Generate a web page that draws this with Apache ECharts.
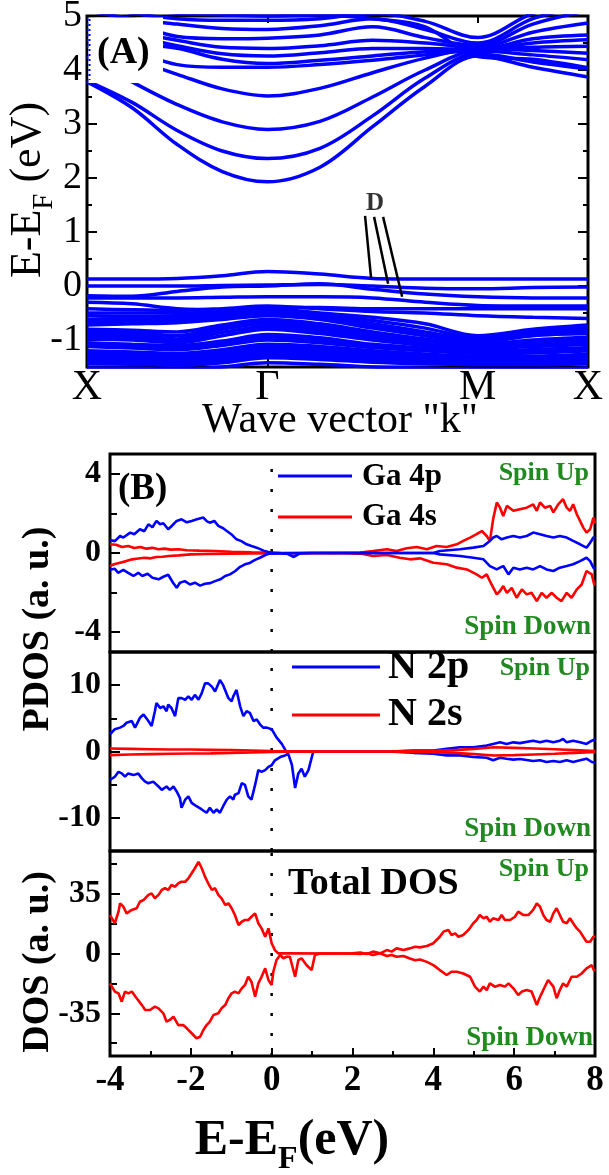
<!DOCTYPE html>
<html>
<head>
<meta charset="utf-8">
<script src="https://cdn.jsdelivr.net/npm/echarts@6/dist/echarts.min.js"></script>
<style>
  html, body { margin: 0; padding: 0; background: #fff; }
  #chart { width: 609px; height: 1175px; }
</style>
</head>
<body>
<div id="chart"></div>
<script>
// ---------- (A) band structure ----------
const kPath = [0, 0.09, 0.18, 0.27, 0.36, 0.465, 0.57, 0.675, 0.78, 0.89, 1.0];
const kTickPos = [0, 0.36, 0.78, 1];
const kTickLabels = ['X', 'Γ', 'M', 'X'];
const energyTicks = [-1, 0, 1, 2, 3, 4, 5];
const energyMinorTicks = [-0.5, 0.5, 1.5, 2.5, 3.5, 4.5];

// conduction bands, energy (eV) at each kPath point
const bandsConduction = [
  [3.78, 3.30, 2.62, 2.12, 1.93, 2.20, 2.95, 3.70, 4.26, 4.05, 3.87],
  [3.80, 3.40, 2.88, 2.50, 2.36, 2.55, 3.15, 3.85, 4.30, 4.15, 4.02],
  [4.25, 3.78, 3.36, 3.04, 2.90, 3.05, 3.50, 4.00, 4.35, 4.28, 4.19],
  [4.45, 4.20, 3.92, 3.65, 3.52, 3.66, 3.95, 4.22, 4.40, 4.36, 4.31],
  [4.55, 4.35, 4.10, 4.05, 4.05, 4.10, 4.18, 4.28, 4.37, 4.42, 4.44],
  [4.65, 4.50, 4.40, 4.20, 4.12, 4.18, 4.26, 4.34, 4.36, 4.50, 4.56],
  [4.75, 4.62, 4.45, 4.30, 4.26, 4.32, 4.40, 4.40, 4.38, 4.58, 4.65],
  [4.85, 4.70, 4.55, 4.42, 4.40, 4.45, 4.55, 4.50, 4.42, 4.70, 4.87],
  [4.95, 4.85, 4.62, 4.58, 4.59, 4.65, 4.80, 4.60, 4.45, 4.85, 5.10],
  [5.10, 4.95, 4.85, 4.77, 4.75, 4.82, 4.95, 4.75, 4.50, 4.95, 5.20],
  [5.20, 5.05, 4.95, 4.92, 4.92, 4.95, 5.05, 4.90, 4.60, 5.05, 5.30],
  [5.30, 5.15, 5.05, 5.02, 5.00, 5.02, 4.95, 4.80, 4.25, 4.20, 4.04]
];

// valence bands, energy (eV) at each kPath point
const bandsValence = [
  [0.13, 0.13, 0.14, 0.19, 0.27, 0.22, 0.14, 0.13, 0.13, 0.13, 0.13],
  [0.00, 0.00, 0.00, 0.01, 0.02, 0.03, 0.00, -0.04, -0.05, -0.03, -0.02],
  [-0.18, -0.19, -0.10, -0.02, 0.00, 0.04, -0.06, -0.15, -0.20, -0.22, -0.22],
  [-0.22, -0.22, -0.22, -0.21, -0.20, -0.20, -0.22, -0.30, -0.36, -0.37, -0.37],
  [-0.30, -0.33, -0.42, -0.44, -0.40, -0.40, -0.42, -0.42, -0.42, -0.42, -0.42],
  [-0.42, -0.44, -0.45, -0.42, -0.37, -0.42, -0.47, -0.50, -0.55, -0.58, -0.60],
  [-0.50, -0.50, -0.50, -0.48, -0.42, -0.50, -0.58, -0.70, -0.92, -0.80, -0.72],
  [-0.55, -0.56, -0.55, -0.52, -0.45, -0.53, -0.64, -0.78, -0.96, -0.82, -0.76],
  [-0.62, -0.60, -0.58, -0.55, -0.48, -0.56, -0.70, -0.85, -1.00, -0.85, -0.80],
  [-0.67, -0.65, -0.63, -0.58, -0.51, -0.59, -0.74, -0.88, -1.02, -0.88, -0.84],
  [-0.72, -0.70, -0.68, -0.62, -0.55, -0.62, -0.78, -0.92, -1.04, -0.92, -0.88],
  [-0.80, -0.82, -0.85, -0.72, -0.62, -0.70, -0.85, -0.98, -1.08, -1.00, -0.95],
  [-0.85, -0.86, -0.92, -0.76, -0.66, -0.74, -0.88, -1.00, -1.10, -1.03, -0.98],
  [-0.90, -0.90, -0.98, -0.80, -0.70, -0.78, -0.92, -1.03, -1.12, -1.06, -1.02],
  [-0.94, -0.95, -1.01, -0.86, -0.75, -0.83, -0.96, -1.06, -1.14, -1.09, -1.05],
  [-0.98, -1.00, -1.05, -0.92, -0.80, -0.88, -1.00, -1.10, -1.16, -1.12, -1.08],
  [-1.05, -1.08, -1.10, -1.02, -0.90, -0.96, -1.08, -1.15, -1.20, -1.18, -1.14],
  [-1.08, -1.11, -1.14, -1.06, -0.95, -1.00, -1.11, -1.18, -1.22, -1.21, -1.17],
  [-1.12, -1.15, -1.18, -1.10, -1.00, -1.05, -1.14, -1.20, -1.25, -1.24, -1.20],
  [-1.20, -1.22, -1.25, -1.18, -1.08, -1.12, -1.20, -1.26, -1.30, -1.30, -1.26],
  [-1.24, -1.26, -1.28, -1.22, -1.12, -1.16, -1.24, -1.29, -1.33, -1.33, -1.29],
  [-1.28, -1.30, -1.32, -1.26, -1.15, -1.20, -1.27, -1.32, -1.35, -1.35, -1.32],
  [-1.32, -1.34, -1.36, -1.30, -1.20, -1.24, -1.30, -1.35, -1.38, -1.38, -1.35],
  [-1.36, -1.38, -1.40, -1.34, -1.24, -1.28, -1.34, -1.38, -1.40, -1.40, -1.38],
  [-1.40, -1.42, -1.44, -1.38, -1.28, -1.32, -1.38, -1.41, -1.43, -1.43, -1.41],
  [-1.44, -1.45, -1.47, -1.42, -1.33, -1.36, -1.41, -1.44, -1.46, -1.46, -1.44],
  [-1.52, -1.52, -1.55, -1.50, -1.42, -1.45, -1.50, -1.52, -1.54, -1.54, -1.52]
];

// "D" annotation: label position and pointer segments [k, E]
const markerDPos = [0.575, 1.52];
const markerDLines = [
  [[0.555, 1.30], [0.567, 0.15]],
  [[0.573, 1.28], [0.601, 0.04]],
  [[0.591, 1.28], [0.629, -0.20]]
];

// ---------- (B) densities of states: [E - EF, DOS] ----------
const dosTicks = [-4, -2, 0, 2, 4, 6, 8];
const gaTicks = [-4, 0, 4], gaMinor = [-2, 2];
const nTicks = [-10, 0, 10], nMinor = [-5, 5];
const totTicks = [-35, 0, 35], totMinor = [-52.5, -17.5, 17.5, 52.5];

const ga4pUp = [[-4,0.65],[-3.96,0.69],[-3.88,0.6],[-3.75,0.86],[-3.67,0.78],[-3.5,1.03],[-3.4,0.95],[-3.26,1.2],[-3.15,1.1],[-3.05,1.45],[-2.95,1.3],[-2.85,1.62],[-2.76,1.45],[-2.68,1.5],[-2.56,1.2],[-2.48,1.35],[-2.35,1.62],[-2.23,1.7],[-2.1,1.55],[-1.98,1.62],[-1.85,1.7],[-1.69,1.79],[-1.6,1.6],[-1.53,1.53],[-1.42,1.62],[-1.32,1.37],[-1.2,1.25],[-1.11,1.11],[-1.0,0.95],[-0.87,0.69],[-0.75,0.6],[-0.62,0.44],[-0.5,0.35],[-0.37,0.27],[-0.2,0.12],[-0.04,0.02],[0.2,0.0],[0.4,-0.05],[0.55,-0.2],[0.7,-0.02],[1.0,0.0],[4.0,0.0],[4.16,0.1],[4.66,0.19],[4.99,0.27],[5.24,0.35],[5.4,0.61],[5.48,0.78],[5.57,0.86],[5.69,0.69],[5.82,0.78],[5.98,0.86],[6.14,0.78],[6.31,0.86],[6.47,1.03],[6.64,0.95],[6.8,0.86],[6.97,0.78],[7.13,0.86],[7.3,0.78],[7.46,0.61],[7.63,0.44],[7.79,0.27],[7.88,0.52],[7.96,0.78],[8,0.8]];
const ga4pDown = [[-4,-0.85],[-3.96,-0.91],[-3.88,-0.8],[-3.8,-1.0],[-3.67,-0.85],[-3.55,-1.0],[-3.42,-1.16],[-3.3,-1.0],[-3.2,-1.16],[-3.07,-1.05],[-2.95,-1.25],[-2.8,-1.33],[-2.68,-1.2],[-2.56,-1.1],[-2.44,-1.5],[-2.35,-1.76],[-2.27,-1.5],[-2.15,-1.42],[-2.02,-1.59],[-1.9,-1.5],[-1.77,-1.65],[-1.65,-1.55],[-1.52,-1.52],[-1.4,-1.42],[-1.27,-1.33],[-1.15,-1.16],[-1.03,-1.08],[-0.9,-0.91],[-0.78,-0.7],[-0.66,-0.57],[-0.54,-0.5],[-0.41,-0.35],[-0.29,-0.24],[-0.16,-0.1],[-0.04,-0.03],[0.2,-0.02],[1,0],[4.0,0],[4.16,-0.07],[4.66,-0.15],[4.99,-0.24],[5.24,-0.32],[5.4,-0.66],[5.57,-0.83],[5.65,-0.74],[5.73,-0.66],[5.86,-1.08],[5.98,-0.74],[6.14,-0.83],[6.31,-0.74],[6.47,-0.83],[6.64,-0.66],[6.8,-0.83],[6.97,-0.91],[7.13,-0.74],[7.3,-0.66],[7.46,-0.57],[7.63,-0.41],[7.79,-0.24],[7.88,-0.41],[7.96,-0.74],[8,-0.8]];
const ga4sUp = [[-4,0.44],[-3.85,0.42],[-3.7,0.3],[-3.55,0.35],[-3.4,0.25],[-3.25,0.3],[-3.1,0.22],[-2.95,0.26],[-2.8,0.19],[-2.65,0.22],[-2.5,0.17],[-2.3,0.19],[-2.1,0.14],[-1.8,0.12],[-1.4,0.1],[-1.0,0.06],[-0.5,0.03],[0,0.01],[1.5,0],[2.19,0.02],[2.51,0.1],[2.85,0.19],[3.09,0.1],[3.34,0.24],[3.59,0.3],[3.84,0.19],[4.08,0.35],[4.33,0.3],[4.58,0.44],[4.74,0.61],[4.91,0.78],[5.07,0.95],[5.2,1.11],[5.32,0.86],[5.4,0.61],[5.48,1.71],[5.57,2.55],[5.65,2.29],[5.73,1.87],[5.82,2.38],[5.98,2.13],[6.14,2.21],[6.31,2.29],[6.47,2.46],[6.56,2.13],[6.64,2.55],[6.76,2.29],[6.89,2.38],[6.97,2.05],[7.09,2.46],[7.21,2.72],[7.3,2.29],[7.38,2.13],[7.46,2.46],[7.55,1.96],[7.63,1.62],[7.71,1.28],[7.79,1.03],[7.88,1.2],[7.96,1.79],[8,1.5]];
const ga4sDown = [[-4,-0.66],[-3.9,-0.57],[-3.75,-0.49],[-3.6,-0.41],[-3.45,-0.32],[-3.3,-0.28],[-3.15,-0.24],[-3.0,-0.27],[-2.85,-0.2],[-2.7,-0.19],[-2.55,-0.15],[-2.3,-0.12],[-2.0,-0.07],[-1.6,-0.05],[-1.0,-0.03],[0,-0.01],[1.5,0],[2.19,-0.03],[2.51,-0.15],[2.85,-0.1],[3.17,-0.24],[3.42,-0.32],[3.67,-0.27],[4.0,-0.49],[4.33,-0.57],[4.58,-0.74],[4.83,-0.83],[5.07,-1.08],[5.2,-1.25],[5.32,-1.08],[5.44,-1.59],[5.57,-2.09],[5.65,-1.92],[5.73,-1.67],[5.82,-2.01],[5.94,-1.76],[6.06,-2.26],[6.19,-1.84],[6.31,-2.09],[6.43,-2.01],[6.56,-2.43],[6.68,-2.01],[6.8,-2.26],[6.93,-2.01],[7.05,-2.26],[7.17,-2.43],[7.3,-2.01],[7.42,-2.26],[7.55,-1.84],[7.67,-1.59],[7.79,-0.91],[7.92,-1.08],[7.98,-1.59],[8,-1.6]];

const n2pUp = [[-4,2.6],[-3.96,2.86],[-3.88,3.36],[-3.75,3.6],[-3.67,3.85],[-3.59,4.34],[-3.46,4.59],[-3.38,3.6],[-3.26,5.08],[-3.17,5.58],[-3.05,4.59],[-2.97,3.85],[-2.89,6.07],[-2.85,7.3],[-2.76,6.56],[-2.68,6.81],[-2.6,6.07],[-2.56,7.06],[-2.48,6.56],[-2.39,5.33],[-2.31,8.04],[-2.23,8.04],[-2.14,7.8],[-2.06,8.3],[-1.98,7.8],[-1.9,8.54],[-1.81,7.8],[-1.73,8.79],[-1.65,10.27],[-1.57,10.27],[-1.48,9.78],[-1.4,9.04],[-1.28,10.77],[-1.2,10.0],[-1.07,8.04],[-0.99,7.56],[-0.95,8.3],[-0.87,9.28],[-0.78,6.81],[-0.7,5.33],[-0.62,6.07],[-0.54,5.83],[-0.45,4.59],[-0.37,4.84],[-0.29,4.1],[-0.21,3.6],[-0.12,3.6],[0.0,3.36],[0.12,2.12],[0.25,1.14],[0.37,-0.1],[0.5,0],[1.0,0],[2.9,0],[3.5,0.15],[4.0,0.15],[4.33,0.4],[4.66,0.64],[4.99,0.64],[5.32,0.89],[5.48,1.14],[5.65,1.38],[5.81,1.14],[5.98,1.38],[6.14,1.26],[6.47,1.63],[6.64,1.38],[6.8,1.63],[6.97,1.38],[7.13,1.63],[7.21,1.88],[7.3,1.38],[7.46,1.63],[7.63,1.38],[7.79,1.14],[7.92,1.63],[8,1.8]];
const n2pDown = [[-4,-4.3],[-3.96,-4.3],[-3.88,-3.8],[-3.79,-3.06],[-3.71,-3.31],[-3.63,-3.8],[-3.55,-3.31],[-3.42,-3.56],[-3.3,-3.31],[-3.21,-4.05],[-3.13,-4.54],[-3.05,-4.79],[-2.93,-4.54],[-2.8,-5.28],[-2.72,-5.78],[-2.6,-5.28],[-2.52,-5.78],[-2.43,-5.28],[-2.35,-6.02],[-2.27,-7.01],[-2.23,-8.49],[-2.14,-7.26],[-2.06,-6.77],[-1.98,-7.75],[-1.86,-8.25],[-1.73,-8.74],[-1.61,-9.23],[-1.53,-8.49],[-1.44,-9.23],[-1.36,-8.74],[-1.28,-9.23],[-1.2,-8.25],[-1.11,-7.26],[-1.03,-6.77],[-0.95,-7.26],[-0.91,-6.52],[-0.82,-6.27],[-0.74,-4.79],[-0.66,-5.04],[-0.58,-6.77],[-0.5,-7.26],[-0.41,-5.04],[-0.33,-2.81],[-0.25,-3.06],[-0.16,-2.81],[-0.08,-2.32],[0.0,-2.07],[0.08,-1.33],[0.21,-0.84],[0.33,-0.59],[0.41,-0.35],[0.5,-2.0],[0.58,-5.5],[0.66,-3.3],[0.74,-2.6],[0.82,-3.8],[0.91,-2.8],[1.03,0],[1.3,0],[2.9,0],[3.5,-0.2],[4.0,-0.35],[4.33,-0.59],[4.66,-0.59],[4.99,-0.84],[5.32,-0.94],[5.48,-1.33],[5.65,-0.94],[5.81,-1.09],[5.98,-1.23],[6.14,-1.14],[6.47,-1.43],[6.64,-1.33],[6.8,-1.58],[6.97,-1.43],[7.13,-1.58],[7.3,-1.33],[7.46,-1.58],[7.63,-1.33],[7.79,-1.09],[7.92,-1.58],[8,-1.7]];
const n2sUp = [[-4,0.45],[-3.5,0.4],[-3,0.35],[-2.5,0.3],[-2,0.3],[-1.5,0.25],[-1,0.2],[-0.5,0.15],[0,0.05],[0.5,0],[3.0,0],[3.5,0.05],[4,0.1],[4.5,0.2],[5,0.4],[5.5,0.64],[6,0.55],[6.5,0.45],[7,0.35],[7.5,0.2],[8,0.05]];
const n2sDown = [[-4,-0.55],[-3.5,-0.45],[-3,-0.4],[-2.5,-0.35],[-2,-0.3],[-1.5,-0.28],[-1,-0.22],[-0.5,-0.15],[0,-0.05],[0.5,0],[3.0,0],[3.5,-0.05],[4,-0.1],[4.5,-0.2],[5,-0.4],[5.5,-0.6],[6,-0.55],[6.5,-0.45],[7,-0.35],[7.5,-0.2],[8,-0.05]];

const totalUp = [[-4,22.5],[-3.96,22.5],[-3.88,17.7],[-3.79,24.5],[-3.75,29.4],[-3.67,27.4],[-3.59,23.5],[-3.46,25.5],[-3.34,26.5],[-3.26,30.3],[-3.17,31.3],[-3.05,34.3],[-2.97,35.2],[-2.89,32.3],[-2.8,34.3],[-2.72,37.2],[-2.64,38.2],[-2.56,37.2],[-2.48,40.1],[-2.39,39.1],[-2.31,41.1],[-2.23,42.0],[-2.14,42.0],[-2.06,44.0],[-1.98,47.0],[-1.9,49.9],[-1.81,53.7],[-1.73,49.9],[-1.65,45.0],[-1.57,41.1],[-1.48,37.2],[-1.4,38.2],[-1.32,34.3],[-1.24,32.3],[-1.15,28.4],[-1.07,29.4],[-0.99,26.5],[-0.91,22.5],[-0.82,16.7],[-0.74,18.6],[-0.66,19.6],[-0.58,19.6],[-0.5,21.5],[-0.41,23.5],[-0.33,17.7],[-0.25,14.7],[-0.16,9.8],[-0.08,14.7],[0.0,6.0],[0.08,2.0],[0.16,0.1],[0.29,0.1],[1.94,0],[2.19,0.5],[2.35,-0.3],[2.51,1.1],[2.68,0.1],[2.85,2.0],[2.97,1.1],[3.09,3.0],[3.26,2.0],[3.42,3.0],[3.55,4.0],[3.67,3.6],[3.84,4.4],[4.0,6.0],[4.16,9.8],[4.25,12.8],[4.37,13.8],[4.45,10.8],[4.54,11.8],[4.62,9.8],[4.74,10.8],[4.87,13.8],[4.99,17.7],[5.07,19.6],[5.15,22.5],[5.24,20.6],[5.32,21.5],[5.4,18.6],[5.48,20.6],[5.61,19.6],[5.69,22.5],[5.77,19.6],[5.9,19.6],[6.02,21.5],[6.1,24.5],[6.23,22.5],[6.35,22.5],[6.47,25.5],[6.56,29.4],[6.64,27.4],[6.72,22.5],[6.8,19.6],[6.89,18.6],[6.97,23.5],[7.05,26.5],[7.13,22.5],[7.21,18.6],[7.3,17.7],[7.38,20.6],[7.46,17.7],[7.55,14.7],[7.63,12.8],[7.71,9.8],[7.79,6.9],[7.88,6.9],[7.96,9.8],[8,10]];
const totalDown = [[-4,-17.5],[-3.96,-17.5],[-3.88,-22.3],[-3.79,-23.3],[-3.71,-28.2],[-3.63,-22.3],[-3.55,-23.3],[-3.46,-22.3],[-3.34,-26.2],[-3.21,-30.2],[-3.13,-33.1],[-3.01,-33.1],[-2.89,-31.1],[-2.8,-32.1],[-2.68,-35.0],[-2.6,-39.9],[-2.52,-38.9],[-2.43,-37.0],[-2.31,-41.9],[-2.19,-41.9],[-2.1,-43.8],[-1.98,-46.7],[-1.86,-49.6],[-1.77,-48.7],[-1.69,-44.8],[-1.61,-41.9],[-1.53,-39.9],[-1.44,-36.0],[-1.32,-35.0],[-1.24,-32.1],[-1.15,-30.2],[-1.07,-26.2],[-0.99,-23.3],[-0.91,-22.3],[-0.82,-23.3],[-0.74,-20.4],[-0.66,-18.4],[-0.58,-13.6],[-0.5,-16.5],[-0.41,-25.3],[-0.33,-17.5],[-0.25,-13.6],[-0.16,-8.7],[-0.08,-15.5],[0.0,-18.4],[0.04,-10.7],[0.12,-3.8],[0.21,-0.9],[0.29,-2.8],[0.37,-1.9],[0.45,-1.9],[0.58,-13.6],[0.66,-3.8],[0.74,-2.8],[0.86,-6.7],[0.99,-9.7],[1.07,-0.9],[1.2,0],[1.94,0],[2.19,-0.3],[2.35,0.1],[2.51,-0.9],[2.68,0.1],[2.85,-1.5],[2.97,-0.9],[3.09,-1.9],[3.26,-1.5],[3.42,-2.9],[3.55,-3.9],[3.67,-3.5],[3.84,-4.9],[4.0,-6.8],[4.16,-9.7],[4.33,-12.6],[4.45,-10.7],[4.58,-10.7],[4.74,-11.7],[4.91,-13.6],[5.03,-19.4],[5.15,-22.3],[5.24,-19.4],[5.32,-21.4],[5.4,-17.5],[5.52,-19.4],[5.65,-18.4],[5.77,-19.4],[5.86,-17.5],[5.98,-20.4],[6.1,-24.3],[6.19,-22.3],[6.31,-21.4],[6.43,-22.3],[6.56,-30.2],[6.64,-25.3],[6.72,-21.4],[6.84,-15.5],[6.97,-19.4],[7.05,-26.2],[7.13,-21.4],[7.21,-17.5],[7.3,-19.4],[7.42,-13.6],[7.55,-13.6],[7.67,-11.7],[7.79,-8.7],[7.92,-6.8],[7.97,-9.7],[8,-10]];

// ---------- styling ----------
const FONT = "'Liberation Serif', 'Times New Roman', serif";
const BLUE = '#0000ff', RED = '#ff0000', GREEN = '#208a20', BLACK = '#000';

const measureCtx = document.createElement('canvas').getContext('2d');
function textWidth(str, size, weight) {
  measureCtx.font = `${weight} ${size}px ${FONT}`;
  return measureCtx.measureText(str).width;
}

// a text run with a subscript, centred on (x, y); rotation in radians
function subscriptText(parts, x, y, rotation, baseSize) {
  const widths = parts.map(p => textWidth(p.text, p.size, p.weight));
  const total = widths.reduce((a, b) => a + b, 0);
  let cursor = -total / 2;
  const children = parts.map((p, i) => {
    const el = {
      type: 'text', x: cursor, y: 0.35 * (baseSize - p.size) + (p.shift || 0),
      style: { text: p.text, fontSize: p.size, fontWeight: p.weight, fontFamily: FONT,
               fill: BLACK, textAlign: 'left', textVerticalAlign: 'middle' }
    };
    cursor += widths[i];
    return el;
  });
  return { type: 'group', x, y, rotation, children };
}

function txt(text, x, y, size, opts) {
  opts = opts || {};
  return {
    type: 'text', x, y, rotation: opts.rotation || 0, z: 20,
    style: { text, fontSize: size, fontWeight: opts.weight || 'normal', fontFamily: FONT,
             fill: opts.color || BLACK, textAlign: opts.align || 'left', textVerticalAlign: 'middle' }
  };
}
function seg(x1, y1, x2, y2, color, width) {
  return { type: 'line', z: 20, shape: { x1, y1, x2, y2 }, style: { stroke: color, lineWidth: width } };
}

const noLine = { show: false, onZero: false };

function tickAxis(gridIndex, min, max, position, ticks, len, labels, labelStyle) {
  return {
    type: 'value', gridIndex, min, max, position,
    axisLine: noLine,
    splitLine: { show: false },
    axisTick: ticks ? { show: true, inside: true, length: len, customValues: ticks,
                        lineStyle: { color: BLACK, width: 2 } } : { show: false },
    axisLabel: labels ? Object.assign({ show: true, customValues: labels, color: BLACK,
                                        fontFamily: FONT }, labelStyle) : { show: false }
  };
}

const gridCommon = { show: true, borderColor: BLACK, borderWidth: 3, backgroundColor: 'transparent',
                     containLabel: false, outerBoundsMode: 'none' };

const xAxes = [
  // 0: (A) bottom, k-point labels
  tickAxis(0, 0, 1, 'bottom', [0.36, 0.78], 10, kTickPos,
           { fontSize: 42, margin: 0, formatter: v => kTickLabels[kTickPos.indexOf(v)] }),
  // 1: (A) top ticks
  tickAxis(0, 0, 1, 'top', [0.36, 0.78], 7, null),
  // 2, 3: hidden x axes of the upper DOS panels
  tickAxis(1, -4, 8, 'bottom', null, 0, null),
  tickAxis(2, -4, 8, 'bottom', null, 0, null),
  // 4: shared energy axis at the bottom
  {
    type: 'value', gridIndex: 3, min: -4, max: 8, interval: 2, position: 'bottom',
    axisLine: noLine, splitLine: { show: false },
    axisTick: { show: true, inside: true, length: 8, lineStyle: { color: BLACK, width: 2 } },
    minorTick: { show: true, splitNumber: 2, length: 5, lineStyle: { color: BLACK, width: 2 } },
    axisLabel: { show: true, color: BLACK, fontFamily: FONT, fontWeight: 'bold', fontSize: 35, margin: 7,
                 customValues: dosTicks }
  }
];

const yLabelA = { fontSize: 38, margin: 5 };
const yLabelB = { fontSize: 32, fontWeight: 'bold', margin: 9 };
const yAxes = [
  tickAxis(0, -1.5, 5, 'left', energyTicks, 10, energyTicks, yLabelA),   // 0
  tickAxis(0, -1.5, 5, 'left', energyMinorTicks, 5, null),               // 1
  tickAxis(0, -1.5, 5, 'right', energyTicks, 10, null),                  // 2
  tickAxis(0, -1.5, 5, 'right', energyMinorTicks, 5, null),              // 3
  tickAxis(1, -5, 5, 'left', gaTicks, 10, gaTicks, yLabelB),             // 4
  tickAxis(1, -5, 5, 'left', gaMinor, 7, null),                          // 5
  tickAxis(2, -15, 15, 'left', nTicks, 10, nTicks, yLabelB),             // 6
  tickAxis(2, -15, 15, 'left', nMinor, 7, null),                         // 7
  tickAxis(3, -60, 60, 'left', totTicks, 10, totTicks, yLabelB),         // 8
  tickAxis(3, -60, 60, 'left', totMinor, 7, null)                        // 9
];

const series = [];

// band structure
bandsValence.concat(bandsConduction).forEach(band => {
  series.push({
    type: 'line', xAxisIndex: 0, yAxisIndex: 0, silent: true, animation: false,
    symbol: 'none', smooth: 0.35, z: 3,
    data: kPath.map((k, i) => [k, band[i]]),
    lineStyle: { color: BLUE, width: 3.5 }
  });
});
markerDLines.forEach(line => {
  series.push({
    type: 'line', xAxisIndex: 0, yAxisIndex: 0, silent: true, animation: false,
    symbol: 'none', z: 6, data: line, lineStyle: { color: BLACK, width: 2.5 }
  });
});
series.push({
  type: 'scatter', xAxisIndex: 0, yAxisIndex: 0, silent: true, animation: false, z: 6,
  symbolSize: 1, itemStyle: { color: 'transparent' }, data: [markerDPos],
  label: { show: true, position: 'inside', formatter: 'D', color: BLACK, fontFamily: FONT,
           fontWeight: 'bold', fontSize: 25 }
});

// Fermi level markers
[[2, 4, 5], [3, 6, 15], [4, 8, 60]].forEach(([xi, yi, lim]) => {
  series.push({
    type: 'line', xAxisIndex: xi, yAxisIndex: yi, silent: true, animation: false, symbol: 'none', z: 2,
    data: [[0, -lim], [0, lim]], lineStyle: { color: BLACK, width: 2.5, type: [3, 17] }
  });
});

function dosLine(data, xi, yi, color) {
  series.push({
    type: 'line', xAxisIndex: xi, yAxisIndex: yi, silent: true, animation: false, symbol: 'none', z: 4,
    data, lineStyle: { color, width: 2.6 }
  });
}
dosLine(ga4sUp, 2, 4, RED); dosLine(ga4sDown, 2, 4, RED);
dosLine(ga4pUp, 2, 4, BLUE); dosLine(ga4pDown, 2, 4, BLUE);
dosLine(n2pUp, 3, 6, BLUE); dosLine(n2pDown, 3, 6, BLUE);
dosLine(n2sUp, 3, 6, RED); dosLine(n2sDown, 3, 6, RED);
dosLine(totalUp, 4, 8, RED); dosLine(totalDown, 4, 8, RED);

const graphics = [
  // clear patch behind the panel tag
  { type: 'rect', z: 10, shape: { x: 88.5, y: 17.5, width: 74.5, height: 65.5 }, style: { fill: '#fff' } },
  { type: 'line', z: 11, shape: { x1: 89.5, y1: 19, x2: 89.5, y2: 80 },
    style: { stroke: BLUE, lineWidth: 2, lineDash: [2, 3] } },
  txt('(A)', 97, 53, 38, { weight: 'bold' }),
  subscriptText([
    { text: 'E-E', size: 44, weight: 'normal' },
    { text: 'F', size: 29, weight: 'normal', shift: 11 },
    { text: ' (eV)', size: 44, weight: 'normal' }
  ], 28, 190, Math.PI / 2, 44),
  { type: 'text', x: 340, y: 421, z: 20,
    style: { text: 'Wave vector "k"', fontSize: 42, fontFamily: FONT, fill: BLACK,
             textAlign: 'center', textVerticalAlign: 'middle' } },

  txt('(B)', 118, 489, 37, { weight: 'bold' }),
  seg(278, 476, 352, 476, BLUE, 3), txt('Ga 4p', 362, 477, 31, { weight: 'bold' }),
  seg(278, 517, 352, 517, RED, 3), txt('Ga 4s', 362, 517, 31, { weight: 'bold' }),
  seg(292, 667, 380, 667, BLUE, 3), txt('N 2p', 388, 668, 40, { weight: 'bold' }),
  seg(292, 715, 380, 715, RED, 3), txt('N 2s', 388, 715, 40, { weight: 'bold' }),
  txt('Total DOS', 288, 884, 38, { weight: 'bold' }),

  txt('Spin Up', 589, 473, 26, { weight: 'bold', color: GREEN, align: 'right' }),
  txt('Spin Down', 591, 627, 27, { weight: 'bold', color: GREEN, align: 'right' }),
  txt('Spin Up', 590, 668, 26, { weight: 'bold', color: GREEN, align: 'right' }),
  txt('Spin Down', 591, 829, 27, { weight: 'bold', color: GREEN, align: 'right' }),
  txt('Spin Up', 589, 869, 26, { weight: 'bold', color: GREEN, align: 'right' }),
  txt('Spin Down', 593, 1038, 27, { weight: 'bold', color: GREEN, align: 'right' }),

  txt('PDOS (a. u.)', 38, 629, 38, { weight: 'bold', align: 'center', rotation: Math.PI / 2 }),
  txt('DOS (a. u.)', 38, 962, 38, { weight: 'bold', align: 'center', rotation: Math.PI / 2 }),
  subscriptText([
    { text: 'E-E', size: 50, weight: 'bold' },
    { text: 'F', size: 32, weight: 'bold', shift: 12 },
    { text: '(eV)', size: 50, weight: 'bold' }
  ], 292, 1141, 0, 50)
];

const chart = echarts.init(document.getElementById('chart'), null, { renderer: 'canvas' });
chart.setOption({
  animation: false,
  backgroundColor: '#fff',
  grid: [
    Object.assign({ left: 87, top: 16, width: 501, height: 351 }, gridCommon),
    Object.assign({ left: 110, top: 454, width: 485, height: 198 }, gridCommon),
    Object.assign({ left: 110, top: 652, width: 485, height: 199 }, gridCommon),
    Object.assign({ left: 110, top: 851, width: 485, height: 205 }, gridCommon)
  ],
  xAxis: xAxes,
  yAxis: yAxes,
  series,
  graphic: { elements: graphics }
});
</script>
</body>
</html>
